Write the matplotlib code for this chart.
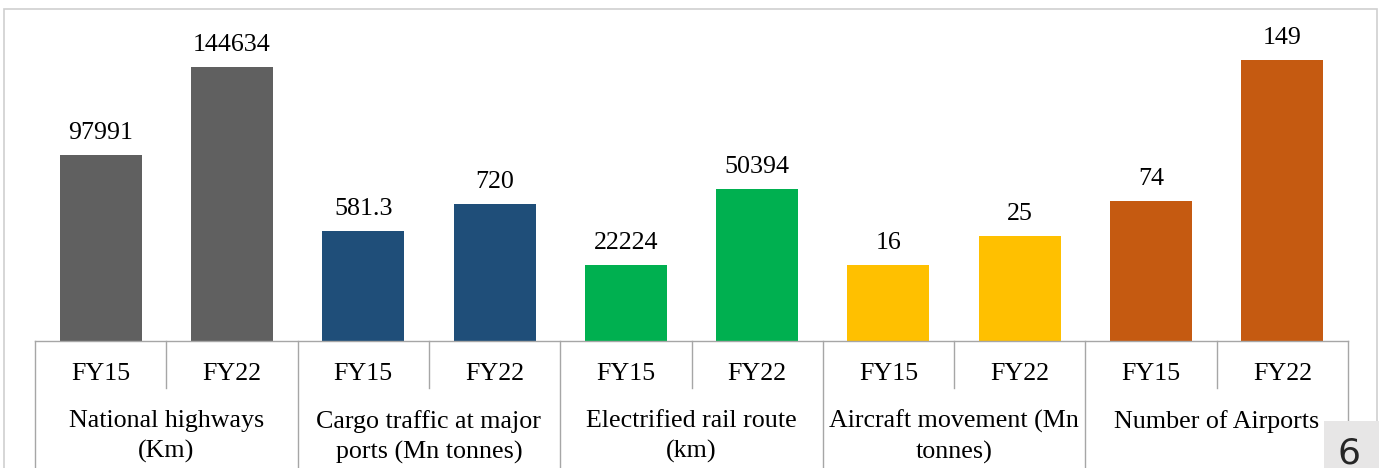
import numpy as np
import matplotlib
matplotlib.use("Agg")
import matplotlib.pyplot as plt
import matplotlib.patches as patches
from matplotlib.lines import Line2D
from matplotlib.transforms import blended_transform_factory

# --- data ---
groups = ["National highways\n(Km)", "Cargo traffic at major\nports (Mn tonnes)",
          "Electrified rail route\n(km)", "Aircraft movement (Mn\ntonnes)",
          "Number of Airports"]
years = ["FY15", "FY22"]
# data labels shown on top of the bars
labels = ["97991", "144634", "581.3", "720", "22224", "50394", "16", "25", "74", "149"]
# plotted bar heights (chart units, as drawn in the original)
heights = [98.4, 145.2, 58.3, 72.6, 40.1, 80.4, 40.1, 55.5, 74.0, 148.9]
colors = ["#606060", "#606060", "#1F4E79", "#1F4E79", "#00B050", "#00B050",
          "#FFC000", "#FFC000", "#C55A11", "#C55A11"]

W, H = 1379, 468
plt.rcParams["font.family"] = ["Liberation Serif", "DejaVu Serif"]
fs = 18.7

def fy(py):
    # pixel row -> figure fraction
    return 1 - py / H

fig = plt.figure(figsize=(W / 100, H / 100), dpi=100)
base_px = 340.5
top_px = 8.5
ax = fig.add_axes([35 / W, fy(base_px), (1348 - 35) / W, (base_px - top_px) / H])
x = np.arange(len(heights))
bars = ax.bar(x, heights, width=0.625, color=colors, zorder=2)
ax.set_xlim(-0.5, len(heights) - 0.5)
ax.set_ylim(0, (base_px - top_px) / 1.884)
ax.axis("off")

for b, lab in zip(bars, labels):
    ax.annotate(lab, (b.get_x() + b.get_width() / 2, b.get_height()),
                xytext=(0, 8), textcoords="offset points",
                ha="center", va="bottom", fontsize=fs, color="#000000")

# --- category table under the bars ---
tr = blended_transform_factory(ax.transData, fig.transFigure)
line_col = "#A6A6A6"
fig.add_artist(Line2D([-0.5, 9.5], [fy(base_px), fy(base_px)], transform=tr,
                      color=line_col, lw=1))
for g in range(len(groups) + 1):
    xg = -0.5 + 2 * g
    fig.add_artist(Line2D([xg, xg], [fy(base_px), fy(H + 2)], transform=tr,
                          color=line_col, lw=1))
for g in range(len(groups)):
    xm = 0.5 + 2 * g
    fig.add_artist(Line2D([xm, xm], [fy(base_px), fy(388)], transform=tr,
                          color=line_col, lw=1))
    for k, yr in enumerate(years):
        fig.text(0, fy(374), yr, transform=tr, ha="center", va="center",
                 fontsize=fs).set_x(2 * g + k)
    t = fig.text(0, fy(410), groups[g], transform=tr, ha="center", va="top",
                 fontsize=fs, linespacing=1.42)
    t.set_x(2 * g + 0.5)

# slide frame
fig.add_artist(patches.Rectangle((4 / W, fy(H + 5)), (1377 - 4) / W,
                                 (H + 5 - top_px) / H, transform=fig.transFigure,
                                 fill=False, edgecolor="#CFCFCF", lw=1.2))

# page number box
fig.add_artist(patches.Rectangle((1324 / W, 0), (W - 1324) / W, (H - 421) / H,
                                 transform=fig.transFigure, facecolor="#E7E6E6",
                                 edgecolor="none", zorder=5))
fig.text(1349 / W, fy(436), "6", ha="center", va="top", fontsize=26,
         family="DejaVu Sans", color="#262626", zorder=6)

fig.savefig("out.png", dpi=100)
